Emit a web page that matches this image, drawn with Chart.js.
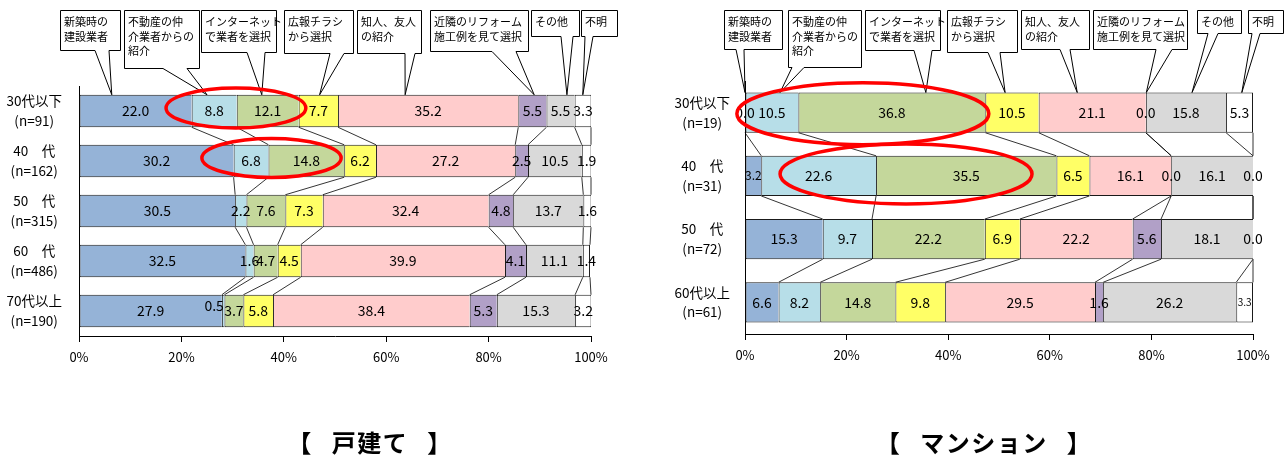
<!DOCTYPE html>
<html>
<head>
<meta charset="utf-8">
<script src="https://cdn.jsdelivr.net/npm/chart.js@4/dist/chart.umd.min.js"></script>
<style>
  html, body { margin: 0; padding: 0; background: #fff; }
  #wrap { position: relative; width: 1287px; height: 459px; overflow: hidden; }
  .pane { position: absolute; top: 0; }
  #paneHouse { left: 0; width: 640px; height: 459px; }
  #paneCondo { left: 640px; width: 647px; height: 459px; }
  .title {
    position: absolute; top: 427px; font: bold 24px "Noto Sans CJK JP", sans-serif;
    color: #000; white-space: pre; transform: translateX(-50%); line-height: 30px;
    word-spacing: 12px; letter-spacing: 1.5px;
  }
</style>
</head>
<body>
<div id="wrap">
  <div class="pane" id="paneHouse"><canvas id="houseChart" width="640" height="459"></canvas></div>
  <div class="pane" id="paneCondo"><canvas id="condoChart" width="647" height="459"></canvas></div>
  <div class="title" style="left:370px">【 戸建て 】</div>
  <div class="title" style="left:984px">【 マンション 】</div>
</div>
<script>
// ---- series (how the contractor was chosen) ----
const seriesNames = ['新築時の建設業者', '不動産の仲介業者からの紹介', 'インターネットで業者を選択', '広報チラシから選択',
                     '知人、友人の紹介', '近隣のリフォーム施工例を見て選択', 'その他', '不明'];
const seriesColors = ['#95B3D7', '#B7DEE8', '#C4D79B', '#FFFF66', '#FFCCCC', '#B1A0C7', '#D9D9D9', '#FFFFFF'];
const calloutTexts = [['新築時の', '建設業者'], ['不動産の仲', '介業者からの', '紹介'], ['インターネット', 'で業者を選択'],
                      ['広報チラシ', 'から選択'], ['知人、友人', 'の紹介'], ['近隣のリフォーム', '施工例を見て選択'],
                      ['その他'], ['不明']];

// ---- detached houses (%) ----
const houseAges     = [['30代以下', '(n=91)'], ['40　代', '(n=162)'], ['50　代', '(n=315)'], ['60　代', '(n=486)'], ['70代以上', '(n=190)']];
const houseBuilder  = [22.0, 30.2, 30.5, 32.5, 27.9];
const houseAgent    = [8.8, 6.8, 2.2, 1.6, 0.5];
const houseInternet = [12.1, 14.8, 7.6, 4.7, 3.7];
const houseFlyer    = [7.7, 6.2, 7.3, 4.5, 5.8];
const houseFriend   = [35.2, 27.2, 32.4, 39.9, 38.4];
const houseNearby   = [5.5, 2.5, 4.8, 4.1, 5.3];
const houseOther    = [5.5, 10.5, 13.7, 11.1, 15.3];
const houseUnknown  = [3.3, 1.9, 1.6, 1.4, 3.2];

// ---- condominiums (%) ----
const condoAges     = [['30代以下', '(n=19)'], ['40　代', '(n=31)'], ['50　代', '(n=72)'], ['60代以上', '(n=61)']];
const condoBuilder  = [0.0, 3.2, 15.3, 6.6];
const condoAgent    = [10.5, 22.6, 9.7, 8.2];
const condoInternet = [36.8, 35.5, 22.2, 14.8];
const condoFlyer    = [10.5, 6.5, 6.9, 9.8];
const condoFriend   = [21.1, 16.1, 22.2, 29.5];
const condoNearby   = [0.0, 0.0, 5.6, 1.6];
const condoOther    = [15.8, 16.1, 18.1, 26.2];
const condoUnknown  = [5.3, 0.0, 0.0, 3.3];

const percentTicks = ['0%', '20%', '40%', '60%', '80%', '100%'];

const FONT = '"Noto Sans CJK JP", sans-serif';
Chart.defaults.font.family = FONT;
Chart.defaults.color = '#000';

// ---- drawing extras: series lines, value labels, callouts, highlight rings ----
const decorPlugin = {
  id: 'decor',
  afterDatasetsDraw(chart, args, opts) {
    const ctx = chart.ctx;
    const area = chart.chartArea;
    const xs = chart.scales.x;
    const metas = chart.data.datasets.map((d, i) => chart.getDatasetMeta(i));
    const rows = chart.data.labels.length;

    // series lines between neighbouring bars
    ctx.save();
    ctx.strokeStyle = '#000';
    ctx.lineWidth = 0.8;
    for (let r = 0; r < rows - 1; r++) {
      metas.forEach(m => {
        const a = m.data[r], b = m.data[r + 1];
        ctx.beginPath();
        ctx.moveTo(Math.min(a.x, area.right), a.y + a.height / 2);
        ctx.lineTo(Math.min(b.x, area.right), b.y - b.height / 2);
        ctx.stroke();
      });
    }
    ctx.restore();

    // value labels
    ctx.save();
    ctx.fillStyle = '#000';
    ctx.textAlign = 'center';
    ctx.textBaseline = 'middle';
    chart.data.datasets.forEach((ds, k) => {
      ds.data.forEach((v, r) => {
        const el = metas[k].data[r];
        const key = r + '-' + k;
        const shift = (opts.shifts && opts.shifts[key]) || [0, 0];
        const size = (opts.sizes && opts.sizes[key]) || 14;
        ctx.font = size + 'px ' + FONT;
        ctx.fillText(v.toFixed(1), (el.x + el.base) / 2 + shift[0], el.y + shift[1]);
      });
    });
    ctx.restore();

    // callout boxes pointing at the first bar
    const first = metas[0].data[0];
    const tipY = first.y - first.height / 2;
    ctx.save();
    ctx.lineWidth = 1;
    ctx.strokeStyle = '#000';
    opts.callouts.forEach((c, i) => {
      const [x1, y1, x2, y2] = c.box;
      const tx = xs.getPixelForValue(c.tip);
      ctx.beginPath();
      ctx.moveTo(x1 + 0.5, y1 + 0.5);
      ctx.lineTo(x2 + 0.5, y1 + 0.5);
      ctx.lineTo(x2 + 0.5, y2 + 0.5);
      ctx.lineTo(c.base[1], y2 + 0.5);
      ctx.lineTo(tx, tipY);
      ctx.lineTo(c.base[0], y2 + 0.5);
      ctx.lineTo(x1 + 0.5, y2 + 0.5);
      ctx.closePath();
      ctx.fillStyle = '#fff';
      ctx.fill();
      ctx.stroke();
      ctx.fillStyle = '#000';
      ctx.font = '11px ' + FONT;
      ctx.textAlign = 'left';
      ctx.textBaseline = 'middle';
      calloutTexts[i].forEach((line, j) => ctx.fillText(line, x1 + 4, y1 + 12 + j * 14.5));
    });
    ctx.restore();

    // red highlight rings
    ctx.save();
    ctx.strokeStyle = '#FF0000';
    ctx.lineWidth = 3.5;
    opts.rings.forEach(e => {
      const x0 = xs.getPixelForValue(e.from), x1 = xs.getPixelForValue(e.to);
      const el = metas[0].data[e.row];
      ctx.beginPath();
      ctx.ellipse((x0 + x1) / 2, el.y + e.dy, (x1 - x0) / 2, e.ry, 0, 0, Math.PI * 2);
      ctx.stroke();
    });
    ctx.restore();
  }
};

function makeChart(canvasId, ages, series, layout, decor) {
  const datasets = series.map((values, k) => ({
    label: seriesNames[k],
    data: values,
    backgroundColor: seriesColors[k],
    borderColor: '#1a1a1a',
    borderWidth: k === series.length - 1 ? { top: 1, bottom: 1, left: 1, right: 1 } : { top: 1, bottom: 1, left: 1, right: 0 },
    borderSkipped: false,
    barPercentage: layout.barPct,
    categoryPercentage: 1
  }));
  return new Chart(document.getElementById(canvasId), {
    type: 'bar',
    data: { labels: ages, datasets },
    plugins: [decorPlugin],
    options: {
      indexAxis: 'y',
      responsive: false,
      animation: false,
      layout: { padding: { top: layout.padTop, right: layout.padRight, left: 0, bottom: 0 } },
      plugins: { legend: { display: false }, tooltip: { enabled: false }, decor },
      scales: {
        x: {
          stacked: true, min: 0, max: 100,
          afterFit: s => { s.height = layout.xHeight; },
          ticks: { stepSize: 20, padding: 7, font: { size: 13 }, color: '#000',
                   callback: (v, i) => percentTicks[i] },
          grid: { drawOnChartArea: false, drawTicks: true, tickLength: 6, color: '#000' },
          border: { display: true, color: '#000', width: 1 }
        },
        y: {
          stacked: true,
          afterFit: s => { s.width = layout.yWidth; },
          ticks: { crossAlign: 'center', padding: layout.tickPad, font: { size: 13.5, lineHeight: 1.45 }, color: '#000' },
          grid: { display: false },
          border: { display: true, color: '#000', width: 1 }
        }
      }
    }
  });
}

makeChart('houseChart', houseAges,
  [houseBuilder, houseAgent, houseInternet, houseFlyer, houseFriend, houseNearby, houseOther, houseUnknown],
  { padTop: 86, padRight: 49, yWidth: 79, xHeight: 123, barPct: 0.65, tickPad: 9 },
  {
    shifts: { '4-1': [-9, -5] },
    sizes: {},
    callouts: [
      { box: [60, 10, 120, 50], base: [95, 109], tip: 6.4 },
      { box: [124, 10, 199, 68], base: [163, 187], tip: 25 },
      { box: [201, 10, 276, 52], base: [247, 265], tip: 35.7 },
      { box: [284, 10, 353, 53], base: [330, 344], tip: 47 },
      { box: [357, 10, 421, 53], base: [405, 415], tip: 63.7 },
      { box: [430, 10, 528, 51], base: [492, 516], tip: 88.9 },
      { box: [531, 10, 579, 36], base: [561, 573], tip: 95.3 },
      { box: [581, 10, 617, 36], base: [585, 593], tip: 98.4 }
    ],
    rings: [
      { row: 0, from: 17.0, to: 44.3, dy: -3, ry: 20 },
      { row: 1, from: 24.0, to: 51.2, dy: -3, ry: 19.5 }
    ]
  });

makeChart('condoChart', condoAges,
  [condoBuilder, condoAgent, condoInternet, condoFlyer, condoFriend, condoNearby, condoOther, condoUnknown],
  { padTop: 81, padRight: 34, yWidth: 105, xHeight: 125, barPct: 0.635, tickPad: 7 },
  {
    shifts: {},
    sizes: { '1-0': 12, '3-7': 10 },
    callouts: [
      { box: [84, 10, 142, 49], base: [96, 104], tip: 0 },
      { box: [148, 10, 221, 67], base: [152, 164], tip: 6.9 },
      { box: [225, 10, 300, 50], base: [274, 292], tip: 35.6 },
      { box: [307, 10, 377, 52], base: [348, 360], tip: 51.2 },
      { box: [381, 10, 449, 49], base: [420, 430], tip: 65.4 },
      { box: [453, 10, 547, 49], base: [516, 532], tip: 79 },
      { box: [557, 10, 601, 33], base: [568, 578], tip: 88 },
      { box: [608, 10, 643, 33], base: [612, 620], tip: 97.8 }
    ],
    rings: [
      { row: 0, from: -1.6, to: 48.0, dy: 1, ry: 31 },
      { row: 1, from: 6.9, to: 56.5, dy: -2, ry: 30 }
    ]
  });
</script>
</body>
</html>
